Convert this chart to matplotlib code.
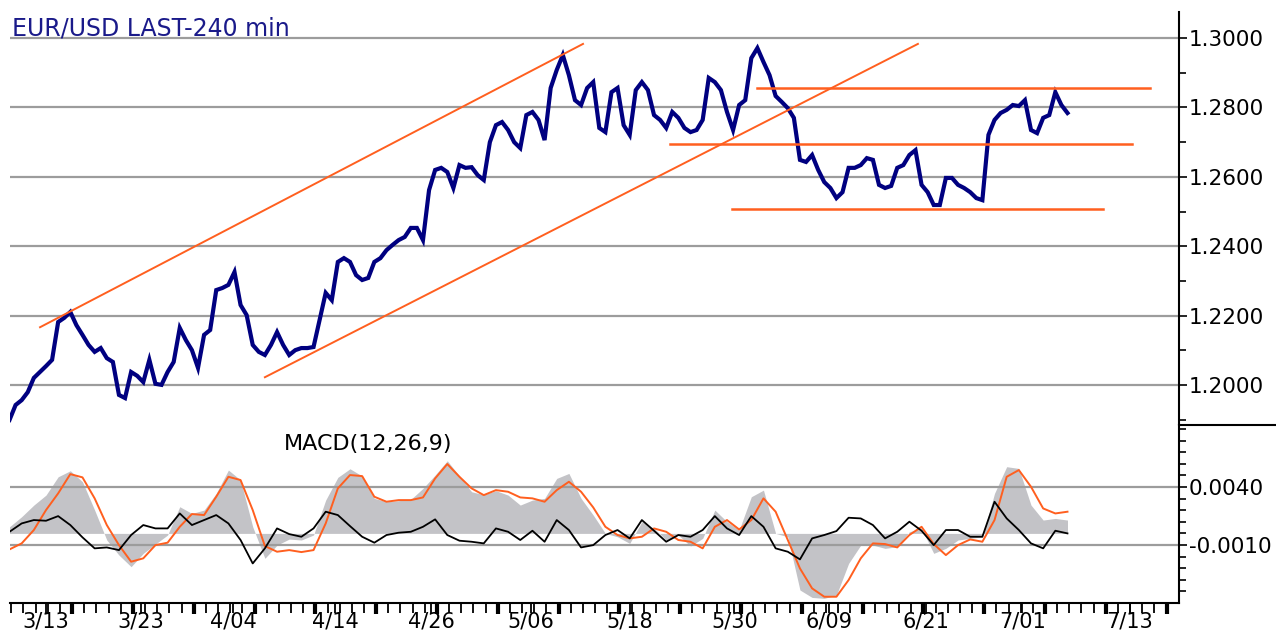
import numpy as np
import matplotlib
matplotlib.use("Agg")
from matplotlib import pyplot as plt
from matplotlib.lines import Line2D

plt.rcParams['font.family'] = ['DejaVu Sans']
plt.rcParams['axes.unicode_minus'] = False

# x axis is in trading days, 0 = 3/13; price sampled every half day, MACD every day
price_start = -3.0
price_step = 0.5
price = [
    1.1900, 1.1943, 1.1957, 1.1980, 1.2021, 1.2038, 1.2055, 1.2073, 1.2182, 1.2194,
    1.2211, 1.2173, 1.2145, 1.2116, 1.2096, 1.2107, 1.2078, 1.2067, 1.1972, 1.1963,
    1.2038, 1.2027, 1.2009, 1.2073, 1.2004, 1.2001, 1.2038, 1.2067, 1.2165, 1.2130,
    1.2101, 1.2050, 1.2145, 1.2159, 1.2274, 1.2280, 1.2289, 1.2326, 1.2231, 1.2202,
    1.2116, 1.2096, 1.2087, 1.2116, 1.2153, 1.2116, 1.2087, 1.2101, 1.2107, 1.2107,
    1.2110, 1.2188, 1.2266, 1.2245, 1.2355, 1.2366, 1.2355, 1.2317, 1.2303, 1.2309,
    1.2355, 1.2366, 1.2389, 1.2404, 1.2418, 1.2427, 1.2453, 1.2453, 1.2418, 1.2562,
    1.2620, 1.2626, 1.2614, 1.2568, 1.2634, 1.2626, 1.2628, 1.2605, 1.2591, 1.2700,
    1.2749, 1.2758, 1.2735, 1.2700, 1.2683, 1.2778, 1.2787, 1.2764, 1.2706, 1.2856,
    1.2908, 1.2951, 1.2893, 1.2821, 1.2807, 1.2856, 1.2873, 1.2741, 1.2729, 1.2844,
    1.2856, 1.2749, 1.2721, 1.2850, 1.2873, 1.2850, 1.2778, 1.2764, 1.2741, 1.2787,
    1.2770, 1.2741, 1.2729, 1.2735, 1.2764, 1.2885, 1.2873, 1.2850, 1.2787, 1.2735,
    1.2807, 1.2821, 1.2942, 1.2971, 1.2931, 1.2893, 1.2833, 1.2816, 1.2798, 1.2770,
    1.2649, 1.2643, 1.2663, 1.2620, 1.2585, 1.2568, 1.2539, 1.2556, 1.2626, 1.2626,
    1.2634, 1.2654, 1.2649, 1.2577, 1.2568, 1.2574, 1.2626, 1.2634, 1.2663, 1.2677,
    1.2577, 1.2556, 1.2519, 1.2519, 1.2597, 1.2597, 1.2577, 1.2568, 1.2556, 1.2539,
    1.2533, 1.2721, 1.2764, 1.2784, 1.2793, 1.2807, 1.2804, 1.2821, 1.2735, 1.2726,
    1.2770, 1.2778, 1.2844, 1.2807, 1.2784,
]

macd_start = -3
macd = [
    0.00057, 0.00144, 0.00244, 0.00330, 0.00488, 0.00540, 0.00445, 0.00201, -0.00057, -0.00187,
    -0.00287, -0.00172, -0.00092, -0.00014, 0.00230, 0.00172, 0.00201, 0.00345, 0.00546, 0.00460,
    0.00057, -0.00215, -0.00101, -0.00049, -0.00057, -0.00014, 0.00287, 0.00483, 0.00557, 0.00494,
    0.00302, 0.00273, 0.00282, 0.00293, 0.00388, 0.00503, 0.00626, 0.00494, 0.00359, 0.00333,
    0.00368, 0.00330, 0.00244, 0.00287, 0.00302, 0.00474, 0.00517, 0.00302, 0.00158, 0.00000,
    -0.00029, -0.00086, 0.00101, 0.00043, -0.00057, -0.00014, -0.00109, -0.00043, 0.00201, 0.00101,
    0.00029, 0.00316, 0.00373, 0.00000, -0.00029, -0.00488, -0.00552, -0.00560, -0.00532, -0.00259,
    -0.00101, -0.00101, -0.00129, -0.00115, 0.00014, 0.00043, -0.00172, -0.00129, -0.00057, -0.00043,
    -0.00029, 0.00345, 0.00575, 0.00560, 0.00244, 0.00115, 0.00129, 0.00115,
]
signal = [
    -0.00138, -0.00086, 0.00029, 0.00201, 0.00345, 0.00511, 0.00483, 0.00302, 0.00072, -0.00101,
    -0.00244, -0.00215, -0.00101, -0.00080, 0.00057, 0.00167, 0.00158, 0.00316, 0.00488, 0.00460,
    0.00201, -0.00109, -0.00158, -0.00144, -0.00161, -0.00144, 0.00086, 0.00388, 0.00503, 0.00494,
    0.00316, 0.00273, 0.00287, 0.00287, 0.00310, 0.00474, 0.00598, 0.00488, 0.00388, 0.00330,
    0.00373, 0.00359, 0.00310, 0.00302, 0.00273, 0.00373, 0.00445, 0.00359, 0.00224, 0.00057,
    -0.00014, -0.00043, -0.00029, 0.00043, 0.00014, -0.00057, -0.00072, -0.00129, 0.00057, 0.00115,
    0.00034, 0.00115, 0.00302, 0.00187, -0.00057, -0.00302, -0.00474, -0.00546, -0.00546, -0.00402,
    -0.00215, -0.00086, -0.00092, -0.00121, -0.00014, 0.00057, -0.00092, -0.00187, -0.00101, -0.00052,
    -0.00072, 0.00115, 0.00488, 0.00546, 0.00402, 0.00215, 0.00172, 0.00187,
]
hist = [
    0.00014, 0.00086, 0.00115, 0.00109, 0.00149, 0.00072, -0.00034, -0.00129, -0.00121, -0.00144,
    -0.00014, 0.00072, 0.00043, 0.00043, 0.00172, 0.00072, 0.00115, 0.00158, 0.00086, -0.00057,
    -0.00259, -0.00129, 0.00043, -0.00006, -0.00029, 0.00043, 0.00187, 0.00158, 0.00063, -0.00029,
    -0.00080, -0.00014, 0.00006, 0.00014, 0.00057, 0.00121, -0.00014, -0.00063, -0.00072, -0.00086,
    0.00043, 0.00014, -0.00057, 0.00023, -0.00072, 0.00115, 0.00029, -0.00121, -0.00101, -0.00014,
    0.00029, -0.00043, 0.00115, 0.00023, -0.00072, -0.00014, -0.00029, 0.00029, 0.00149, 0.00043,
    -0.00014, 0.00149, 0.00057, -0.00129, -0.00158, -0.00224, -0.00043, -0.00014, 0.00020, 0.00135,
    0.00129, 0.00072, -0.00043, 0.00014, 0.00101, 0.00023, -0.00101, 0.00029, 0.00029, -0.00029,
    -0.00029, 0.00273, 0.00129, 0.00029, -0.00086, -0.00129, 0.00023, 0.00000,
]

# trendlines: (x0, y0, x1, y1)
channel_lines = [(-0.49, 1.2167, 44.16, 1.2983), (18.0, 1.2023, 71.7, 1.2983)]
level_lines = [(58.5, 90.8, 1.2856), (51.3, 89.3, 1.2695), (56.4, 86.9, 1.2507)]

date_labels = ['3/13', '3/23', '4/04', '4/14', '4/26', '5/06', '5/18',
               '5/30', '6/09', '6/21', '7/01', '7/13']
date_pos = [0, 7.8, 15.4, 23.8, 31.7, 39.9, 48.0, 56.6, 64.4, 72.4, 80.3, 89.1]

price_levels = [1.20, 1.22, 1.24, 1.26, 1.28, 1.30]
macd_levels = [0.0040, -0.0010]

navy = '#000080'
orange = '#ff5f1f'
grid_c = '#9c9c9c'

W, H = 1276, 634
fig = plt.figure(figsize=(W / 100, H / 100), dpi=100)
left, right = 10, 1179
ax1 = fig.add_axes([left / W, 1 - 425 / H, (right - left) / W, 413 / H])
ax2 = fig.add_axes([left / W, 1 - 603 / H, (right - left) / W, 178 / H])

xlim = (-2.96, 93.17)

px = price_start + price_step * np.arange(len(price))
mx = macd_start + np.arange(len(macd))

# --- price panel
for lv in price_levels:
    ax1.axhline(lv, color=grid_c, lw=1.6, zorder=1)
ax1.plot(px, price, color=navy, lw=3.0, zorder=3, solid_joinstyle='miter')
for x0, y0, x1, y1 in channel_lines:
    ax1.plot([x0, x1], [y0, y1], color=orange, lw=1.4, zorder=4)
for x0, x1, lv in level_lines:
    ax1.plot([x0, x1], [lv, lv], color=orange, lw=1.8, zorder=4)
ax1.set_xlim(*xlim)
ax1.set_ylim(1.18854, 1.30749)
ax1.yaxis.tick_right()
ax1.set_yticks(price_levels)
ax1.set_yticklabels(['%.4f' % v for v in price_levels])
ax1.set_yticks([1.19, 1.21, 1.23, 1.25, 1.27, 1.29], minor=True)
ax1.tick_params(axis='y', which='major', length=6, width=1.2, labelsize=15.5, pad=1)
ax1.tick_params(axis='y', which='minor', length=5, width=1.2)
ax1.set_xticks([])
for s in ['left', 'top', 'bottom']:
    ax1.spines[s].set_visible(False)
ax1.spines['right'].set_linewidth(1.5)

# --- MACD panel
ax2.fill_between(mx, 0, macd, color='#c3c3c7', lw=0, zorder=1)
for lv in macd_levels:
    ax2.axhline(lv, color=grid_c, lw=1.6, zorder=2)
ax2.plot(mx, signal, color=orange, lw=1.4, zorder=3)
ax2.plot(mx, hist, color='black', lw=1.3, zorder=4)
ax2.set_xlim(*xlim)
ax2.set_ylim(-0.0060, 0.009344)
ax2.yaxis.tick_right()
ax2.set_yticks(macd_levels)
ax2.set_yticklabels(['%.4f' % v for v in macd_levels])
ax2.set_yticks(np.arange(-0.005, 0.0091, 0.001), minor=True)
ax2.tick_params(axis='y', which='major', length=6, width=1.2, labelsize=15.5, pad=1)
ax2.tick_params(axis='y', which='minor', length=5, width=1.2)
ax2.set_xticks(date_pos)
ax2.set_xticklabels(date_labels)
ax2.set_xticks(np.arange(-2.85, 93, 1.0), minor=True)
ax2.tick_params(axis='x', which='major', length=7.5, width=1.3, labelsize=15, pad=-1.5)
ax2.tick_params(axis='x', which='minor', length=7.5, width=1.3)
thick = np.arange(2.15, 93, 5.0)
ax2.vlines(thick, -0.06, 0, transform=ax2.get_xaxis_transform(), colors='black',
           lw=3, clip_on=False)
for s in ['left', 'top']:
    ax2.spines[s].set_visible(False)
ax2.spines['right'].set_linewidth(1.5)
ax2.spines['bottom'].set_linewidth(1.5)
fig.text(368 / W, 1 - 444 / H, 'MACD(12,26,9)', fontsize=16, ha='center', va='center')

# separator on the right axis between panels
fig.add_artist(Line2D([right / W, 1], [1 - 425 / H, 1 - 425 / H], color='black', lw=1.5))

fig.text(12 / W, 1 - 29 / H, 'EUR/USD LAST-240 min', fontsize=17, color='#1a1a8a',
         ha='left', va='center')

fig.savefig('out.png', dpi=100)
